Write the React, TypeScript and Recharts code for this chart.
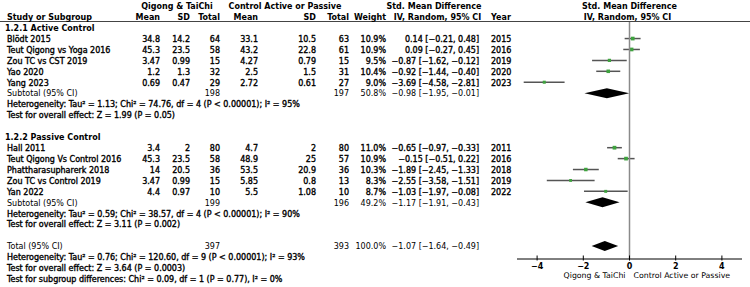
import React from 'react';
import { ComposedChart, Bar, XAxis, YAxis, ReferenceLine } from 'recharts';

// ---------- data ----------
const groupTitles = ['1.2.1 Active Control', '1.2.2 Passive Control'];

const activeNames = ['Blödt 2015', 'Teut Qigong vs Yoga 2016', 'Zou TC vs CST 2019', 'Yao 2020', 'Yang 2023'];
const activeQgMean = [34.8, 45.3, 3.47, 1.2, 0.69];
const activeQgSD = [14.2, 23.5, 0.99, 1.3, 0.47];
const activeQgN = [64, 58, 15, 32, 29];
const activeCtMean = [33.1, 43.2, 4.27, 2.5, 2.72];
const activeCtSD = [10.5, 22.8, 0.79, 1.5, 0.61];
const activeCtN = [63, 61, 15, 31, 27];
const activeWeight = [10.9, 10.9, 9.5, 10.4, 9.0];
const activeSMD = [0.14, 0.09, -0.87, -0.92, -3.69];
const activeLo = [-0.21, -0.27, -1.62, -1.44, -4.58];
const activeHi = [0.48, 0.45, -0.12, -0.4, -2.81];
const activeYear = [2015, 2016, 2019, 2020, 2023];

const passiveNames = ['Hall 2011', 'Teut Qigong Vs Control 2016', 'Phattharasupharerk 2018', 'Zou TC vs Control 2019', 'Yan 2022'];
const passiveQgMean = [3.4, 45.3, 14, 3.47, 4.4];
const passiveQgSD = [2, 23.5, 20.5, 0.99, 0.97];
const passiveQgN = [80, 58, 36, 15, 10];
const passiveCtMean = [4.7, 48.9, 53.5, 5.85, 5.5];
const passiveCtSD = [2, 25, 20.9, 0.8, 1.08];
const passiveCtN = [80, 57, 36, 13, 10];
const passiveWeight = [11.0, 10.9, 10.3, 8.3, 8.7];
const passiveSMD = [-0.65, -0.15, -1.89, -2.55, -1.03];
const passiveLo = [-0.97, -0.51, -2.45, -3.58, -1.97];
const passiveHi = [-0.33, 0.22, -1.33, -1.51, -0.08];
const passiveYear = [2011, 2016, 2018, 2019, 2022];

const pooledLabels = ['Subtotal (95% CI)', 'Subtotal (95% CI)', 'Total (95% CI)'];
const pooledQgN = [198, 199, 397];
const pooledCtN = [197, 196, 393];
const pooledWeight = [50.8, 49.2, 100.0];
const pooledSMD = [-0.98, -1.17, -1.07];
const pooledLo = [-1.95, -1.91, -1.64];
const pooledHi = [-0.01, -0.43, -0.49];

const heterogeneityTexts = [
  'Heterogeneity: Tau² = 1.13; Chi² = 74.76, df = 4 (P < 0.00001); I² = 95%',
  'Heterogeneity: Tau² = 0.59; Chi² = 38.57, df = 4 (P < 0.00001); I² = 90%',
  'Heterogeneity: Tau² = 0.76; Chi² = 120.60, df = 9 (P < 0.00001); I² = 93%',
];
const overallEffectTexts = [
  'Test for overall effect: Z = 1.99 (P = 0.05)',
  'Test for overall effect: Z = 3.11 (P = 0.002)',
  'Test for overall effect: Z = 3.64 (P = 0.0003)',
];
const subgroupTestText = 'Test for subgroup differences: Chi² = 0.09, df = 1 (P = 0.77), I² = 0%';

const xTicks = [-4, -2, 0, 2, 4];
const favoursLabels = ['Qigong & TaiChi', 'Control Active or Passive'];

// ---------- layout ----------
const FONT = "'DejaVu Sans', Verdana, sans-serif";
const FS = 8;
const W = 750;
const H = 287;
const PLOT_LEFT = 517;
const PLOT_RIGHT = 742;
const PLOT_TOP = 22;
const AXIS_Y = 259;
const X_DOMAIN: [number, number] = [-4.87, 4.87];
const ROW_H = 10.914;
const ROW0 = 6.27;
const rowY = (k: number) => ROW0 + k * ROW_H;
const FIRST_CHART_ROW = 2;
const LAST_CHART_ROW = 22;
const PAD_TOP = rowY(FIRST_CHART_ROW) - ROW_H / 2 - PLOT_TOP;
const PAD_BOTTOM = AXIS_Y - (rowY(LAST_CHART_ROW) + ROW_H / 2);
const ZERO_X = PLOT_LEFT + ((0 - X_DOMAIN[0]) / (X_DOMAIN[1] - X_DOMAIN[0])) * (PLOT_RIGHT - PLOT_LEFT);

const fmtNum = (v: number) => String(v).replace('-', '−');
const fmtSMD = (v: number) => v.toFixed(2).replace('-', '−');
const fmtCI = (e: number, lo: number, hi: number) => `${fmtSMD(e)} [${fmtSMD(lo)}, ${fmtSMD(hi)}]`;

type Row = {
  k: number;
  type: 'header' | 'group' | 'study' | 'pooled' | 'text' | 'blank';
  label?: string;
  cells?: string[];
  year?: number;
  est?: number;
  lo?: number;
  hi?: number;
  weight?: number;
};

const rows: Row[] = [];
let k = 0;
rows.push({ k: k++, type: 'header' });
rows.push({ k: k++, type: 'header' });
const groups = [
  { names: activeNames, qm: activeQgMean, qs: activeQgSD, qn: activeQgN, cm: activeCtMean, cs: activeCtSD, cn: activeCtN, w: activeWeight, e: activeSMD, lo: activeLo, hi: activeHi, y: activeYear },
  { names: passiveNames, qm: passiveQgMean, qs: passiveQgSD, qn: passiveQgN, cm: passiveCtMean, cs: passiveCtSD, cn: passiveCtN, w: passiveWeight, e: passiveSMD, lo: passiveLo, hi: passiveHi, y: passiveYear },
];
groups.forEach((g, gi) => {
  rows.push({ k: k++, type: 'group', label: groupTitles[gi] });
  g.names.forEach((n, i) => {
    rows.push({
      k: k++, type: 'study', label: n,
      cells: [fmtNum(g.qm[i]), fmtNum(g.qs[i]), String(g.qn[i]), fmtNum(g.cm[i]), fmtNum(g.cs[i]), String(g.cn[i]), g.w[i].toFixed(1) + '%', fmtCI(g.e[i], g.lo[i], g.hi[i])],
      year: g.y[i], est: g.e[i], lo: g.lo[i], hi: g.hi[i], weight: g.w[i],
    });
  });
  rows.push({
    k: k++, type: 'pooled', label: pooledLabels[gi],
    cells: ['', '', String(pooledQgN[gi]), '', '', String(pooledCtN[gi]), pooledWeight[gi].toFixed(1) + '%', fmtCI(pooledSMD[gi], pooledLo[gi], pooledHi[gi])],
    est: pooledSMD[gi], lo: pooledLo[gi], hi: pooledHi[gi],
  });
  rows.push({ k: k++, type: 'text', label: heterogeneityTexts[gi] });
  rows.push({ k: k++, type: 'text', label: overallEffectTexts[gi] });
  rows.push({ k: k++, type: 'blank' });
});
rows.push({
  k: k++, type: 'pooled', label: pooledLabels[2],
  cells: ['', '', String(pooledQgN[2]), '', '', String(pooledCtN[2]), pooledWeight[2].toFixed(1) + '%', fmtCI(pooledSMD[2], pooledLo[2], pooledHi[2])],
  est: pooledSMD[2], lo: pooledLo[2], hi: pooledHi[2],
});
rows.push({ k: k++, type: 'text', label: heterogeneityTexts[2] });
rows.push({ k: k++, type: 'text', label: overallEffectTexts[2] });
rows.push({ k: k++, type: 'text', label: subgroupTestText });

const chartData = rows
  .filter((r) => r.k >= FIRST_CHART_ROW && r.k <= LAST_CHART_ROW)
  .map((r) => ({
    row: 'r' + r.k,
    ci: r.lo !== undefined && r.hi !== undefined ? [r.lo, r.hi] : null,
    est: r.est,
    pooled: r.type === 'pooled',
    weight: r.weight,
  }));

// column right edges
const colX = [160, 190, 220, 258, 316, 349, 386, 479];

const ForestShape = (props: any) => {
  const { x, y, width, height, payload } = props;
  if (!payload || !payload.ci || !isFinite(x) || !isFinite(width)) return <g />;
  const x1 = Math.min(x, x + width);
  const x2 = Math.max(x, x + width);
  const cy = y + height / 2;
  const [lo, hi] = payload.ci;
  const ex = x1 + ((payload.est - lo) / (hi - lo)) * (x2 - x1);
  if (payload.pooled) {
    const h = height / 2;
    return <polygon points={`${x1},${cy} ${ex},${cy - h} ${x2},${cy} ${ex},${cy + h}`} fill="#000" />;
  }
  const s = payload.weight * 0.34;
  return (
    <g>
      <line x1={x1} x2={x2} y1={cy} y2={cy} stroke="#555" strokeWidth={1.5} />
      <rect x={ex - s / 2} y={cy - s / 2} width={s} height={s} fill="#3fa33f" />
    </g>
  );
};

const AxisTick = (props: any) => {
  const { x, y, payload } = props;
  const v = payload.value as number;
  return (
    <g>
      <line x1={x} x2={x} y1={y - 3.5} y2={y + 1.5} stroke="#000" strokeWidth={1} />
      <text x={x} y={y + 9.5} textAnchor="middle" fontSize={FS} fontWeight="bold" fontFamily={FONT} fill="#000">
        {v < 0 ? '−' + Math.abs(v) : String(v)}
      </text>
    </g>
  );
};

// heavy: regular-width glyphs darkened with a thin outline, as in the reference
const Txt = ({ x, k, children, anchor = 'start', bold = false, heavy = false, size = FS }: any) => (
  <text
    x={x}
    y={rowY(k) + 2.9}
    textAnchor={anchor}
    fontSize={size}
    fontWeight={bold ? 'bold' : 'normal'}
    fontFamily={FONT}
    fill="#000"
    stroke={heavy ? '#000' : undefined}
    strokeWidth={heavy ? 0.35 : undefined}
  >
    {children}
  </text>
);

export default function App() {
  const texts: React.ReactNode[] = [];
  texts.push(<Txt key="h1" x={177} k={0} anchor="middle" bold>Qigong &amp; TaiChi</Txt>);
  texts.push(<Txt key="h2" x={285} k={0} anchor="middle" bold>Control Active or Passive</Txt>);
  texts.push(<Txt key="h3" x={434} k={0} anchor="middle" bold>Std. Mean Difference</Txt>);
  texts.push(<Txt key="h4" x={ZERO_X} k={0} anchor="middle" bold>Std. Mean Difference</Txt>);
  texts.push(<Txt key="s1" x={7} k={1} bold>Study or Subgroup</Txt>);
  const heads = ['Mean', 'SD', 'Total', 'Mean', 'SD', 'Total', 'Weight'];
  heads.forEach((h, i) => texts.push(<Txt key={'hh' + i} x={colX[i]} k={1} anchor="end" bold>{h}</Txt>));
  texts.push(<Txt key="hci" x={437.5} k={1} anchor="middle" bold>IV, Random, 95% CI</Txt>);
  texts.push(<Txt key="hyr" x={491} k={1} bold>Year</Txt>);
  texts.push(<Txt key="hci2" x={ZERO_X - 2} k={1} anchor="middle" bold>IV, Random, 95% CI</Txt>);

  rows.forEach((r) => {
    if (r.type === 'group') texts.push(<Txt key={'g' + r.k} x={5} k={r.k} bold>{r.label}</Txt>);
    if (r.type === 'text') texts.push(<Txt key={'t' + r.k} x={7} k={r.k} heavy>{r.label}</Txt>);
    if (r.type === 'study' || r.type === 'pooled') {
      const heavy = r.type === 'study';
      texts.push(<Txt key={'n' + r.k} x={7} k={r.k} heavy={heavy}>{r.label}</Txt>);
      r.cells!.forEach((c, i) => {
        if (c) texts.push(<Txt key={'c' + r.k + '-' + i} x={colX[i]} k={r.k} anchor="end" heavy={heavy}>{c}</Txt>);
      });
      if (r.year) texts.push(<Txt key={'y' + r.k} x={491} k={r.k} heavy={heavy}>{r.year}</Txt>);
    }
  });

  return (
    <div style={{ position: 'fixed', left: 0, top: 0, width: W, height: H, background: '#fff' }}>
      <ComposedChart
        width={W}
        height={H}
        data={chartData}
        layout="vertical"
        margin={{ top: PLOT_TOP, right: W - PLOT_RIGHT, bottom: 0, left: PLOT_LEFT }}
      >
        <XAxis
          type="number"
          domain={X_DOMAIN}
          allowDataOverflow
          ticks={xTicks}
          interval={0}
          height={H - AXIS_Y}
          tickLine={false}
          tickSize={0}
          tickMargin={0}
          axisLine={{ stroke: '#000', strokeWidth: 1 }}
          tick={<AxisTick />}
        />
        <YAxis type="category" dataKey="row" hide width={0} padding={{ top: PAD_TOP, bottom: PAD_BOTTOM }} />
        <ReferenceLine x={0} stroke="#8a8a8a" strokeWidth={1.5} />
        <Bar dataKey={(d: any) => d.ci} barSize={10} isAnimationActive={false} shape={<ForestShape />} />
      </ComposedChart>
      <svg width={W} height={H} style={{ position: 'absolute', left: 0, top: 0, pointerEvents: 'none' }}>
        <line x1={0} x2={W} y1={PLOT_TOP - 0.5} y2={PLOT_TOP - 0.5} stroke="#444" strokeWidth={1} />
        {texts}
        <text x={ZERO_X - 4} y={278} textAnchor="end" fontSize={7.8} fontFamily={FONT} fill="#000">{favoursLabels[0]}</text>
        <text x={ZERO_X + 4} y={278} textAnchor="start" fontSize={7.8} fontFamily={FONT} fill="#000">{favoursLabels[1]}</text>
      </svg>
    </div>
  );
}
